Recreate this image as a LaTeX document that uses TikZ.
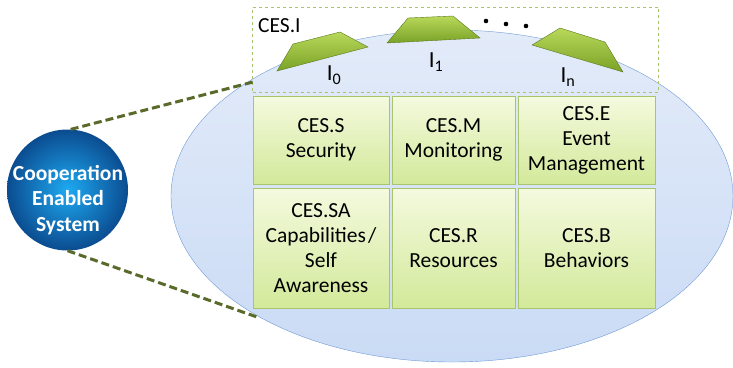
\documentclass[tikz,border=0pt]{standalone}
\usepackage{fontspec}
\setmainfont{Carlito}
\usetikzlibrary{positioning, calc, shapes}

\definecolor{ellfill}{HTML}{CADBF5}
\definecolor{elltop}{HTML}{E3EBF9}
\definecolor{ellline}{HTML}{6F9AD6}
\definecolor{celltop}{HTML}{F4FADF}
\definecolor{cellbot}{HTML}{D3E99A}
\definecolor{cellline}{HTML}{A9C46A}
\definecolor{trtop}{HTML}{B8D85A}
\definecolor{trbot}{HTML}{7AA226}
\definecolor{linkcol}{HTML}{5A6A2A}
\definecolor{ballin}{HTML}{1EAAF2}
\definecolor{ballout}{HTML}{0B4C90}

\tikzset{
  cell/.style={draw=cellline, top color=celltop, bottom color=cellbot,
    align=center, inner sep=0pt, font=\fontsize{21.5}{25}\selectfont},
  iface/.style={draw=trbot!75!black, line width=0.4pt, top color=trtop, bottom color=trbot},
  link/.style={draw=linkcol, line width=3pt, dash pattern=on 8pt off 4pt},
  ilabel/.style={font=\fontsize{23}{26}\selectfont}
}

\begin{document}
\begin{tikzpicture}[x=1pt, y=-1pt]
  \useasboundingbox (0,0) rectangle (733,367);

  \node (sys) [ellipse, draw=ellline, top color=elltop, bottom color=ellfill,
    minimum width=562, minimum height=332] at (452,196) {};

  \node (cesi) [draw=cellline, dashed, line width=0.5pt, minimum width=406,
    minimum height=85, inner sep=0pt] at (455.5,49.5) {};
  \node (cesilabel) [anchor=base west, inner sep=0pt, font=\fontsize{21.5}{25}\selectfont] at (258,32) {CES.I};

  % cells
  \node (sec) [cell, minimum width=136, minimum height=88] at (321,140) {CES.S\\Security};
  \node (mon) [cell, minimum width=123, minimum height=88] at (453.5,140) {CES.M\\Monitoring};
  \node (evt) [cell, minimum width=137, minimum height=88] at (586.5,140) {CES.E\\Event\\Management};
  \node (cap) [cell, minimum width=136, minimum height=120] at (321,248) {CES.SA\\Capabilities\kern2pt/\\Self\\Awareness};
  \node (res) [cell, minimum width=123, minimum height=120] at (453.5,248) {CES.R\\Resources};
  \node (beh) [cell, minimum width=137, minimum height=120] at (586.5,248) {CES.B\\Behaviors};

  % interfaces
  \shade[iface] (277,71) -- (293,44) -- (340,32) -- (368,47) -- cycle;
  \shade[iface] (387,43) -- (408,18) -- (453,16) -- (480,38) -- cycle;
  \shade[iface] (532,45) -- (560,28) -- (605,42) -- (623,72) -- cycle;

  \node (i0) [ilabel] at (334,75) {I\textsubscript{0}};
  \node (i1) [ilabel] at (436,62) {I\textsubscript{1}};
  \node (in) [ilabel] at (568,77) {I\textsubscript{n}};

  \fill (486,21) circle (2.3) (506,24) circle (2.3) (526,26) circle (2.3);

  % sphere
  \node (ces) [circle, minimum size=121, inner sep=0pt, inner color=ballin, outer color=ballout] at (67.5,190) {};
  \node (cestxt) [text=white, align=center, inner sep=0pt,
    font=\bfseries\fontsize{21.5}{25.5}\selectfont] at (68,200) {Cooperation\\Enabled\\System};

  \coordinate (up) at (253,82);
  \coordinate (down) at (257,317);
  \draw[link] (ces.87) -- (up);
  \draw[link] (ces.south) -- (down);
\end{tikzpicture}
\end{document}
